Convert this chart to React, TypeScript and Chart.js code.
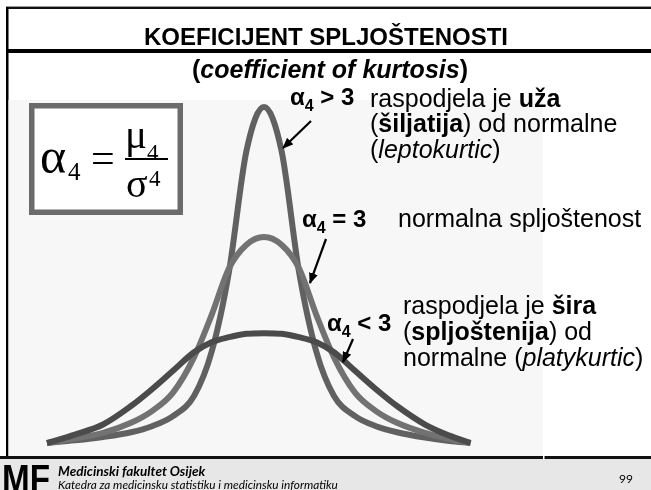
import React, { useEffect, useRef } from "react";
import { Chart, registerables } from "chart.js";

Chart.register(...registerables);

// Horizontal positions (in standard-deviation-like units) sampled along each curve
const xs = [-3.1, -2.7, -2.3, -1.9, -1.6, -1.3, -1.0, -0.75, -0.5, -0.25, 0, 0.25, 0.5, 0.75, 1.0, 1.3, 1.6, 1.9, 2.3, 2.65, 2.95];

// Relative heights of the three curves at those positions
const leptokurticY = [0, 0.008, 0.018, 0.032, 0.05, 0.08, 0.14, 0.27, 0.51, 0.87, 1.0, 0.87, 0.51, 0.27, 0.14, 0.08, 0.05, 0.032, 0.016, 0.006, 0];
const mesokurticY = [0, 0.014, 0.03, 0.06, 0.095, 0.15, 0.255, 0.38, 0.52, 0.59, 0.613, 0.59, 0.52, 0.38, 0.255, 0.15, 0.095, 0.06, 0.03, 0.012, 0];
const platykurticY = [0, 0.025, 0.055, 0.11, 0.16, 0.215, 0.27, 0.3, 0.315, 0.325, 0.327, 0.325, 0.315, 0.3, 0.27, 0.215, 0.16, 0.11, 0.055, 0.022, 0];

const seriesLabels = ["α4 < 3", "α4 = 3", "α4 > 3"];
const seriesColors = ["#4b4b4b", "#727272", "#616161"];

const toPoints = (ys: number[]) => xs.map((x, i) => ({ x, y: ys[i] }));

const sans = "'Liberation Sans', Arial, sans-serif";
const serif = "'Liberation Serif', 'Times New Roman', serif";
const footerFont = "Lato, 'Open Sans', sans-serif";

export default function App() {
  const canvasRef = useRef<HTMLCanvasElement | null>(null);

  useEffect(() => {
    const canvas = canvasRef.current;
    if (!canvas) return;
    const seriesData = [platykurticY, mesokurticY, leptokurticY];
    const chart = new Chart(canvas, {
      type: "line",
      data: {
        datasets: seriesData.map((ys, i) => ({
          label: seriesLabels[i],
          data: toPoints(ys),
          borderColor: seriesColors[i],
          borderWidth: 6,
          pointRadius: 0,
          fill: false,
          cubicInterpolationMode: "monotone" as const,
          borderCapStyle: "butt" as const,
          clip: false as any,
        })),
      },
      options: {
        animation: false,
        responsive: false,
        maintainAspectRatio: false,
        layout: { padding: { left: 6, right: 6, top: 7, bottom: 7 } },
        scales: {
          x: { type: "linear", min: -3.2, max: 3.2, display: false },
          y: { type: "linear", min: 0, max: 1, display: false },
        },
        plugins: { legend: { display: false }, tooltip: { enabled: false } },
      },
    });
    return () => chart.destroy();
  }, []);

  return (
    <div style={{ position: "fixed", left: 0, top: 0, width: 651, height: 490, overflow: "hidden", background: "#fff" }}>
      {/* slide frame, panel and footer band */}
      <svg width={651} height={490} style={{ position: "absolute", left: 0, top: 0 }}>
        <rect x={0} y={0} width={651} height={490} fill="#ffffff" />
        <rect x={6} y={6} width={645} height={1} fill="#9a9a9a" />
        <rect x={6} y={7} width={645} height={2} fill="#111" />
        <rect x={6} y={7} width={2.5} height={452} fill="#000" />
        <rect x={6} y={49} width={645} height={4} fill="#000" />
        <rect x={8.5} y={100} width={534.5} height={356} fill="#f7f7f7" />
        <rect x={0} y={456} width={651} height={3} fill="#111" />
        <rect x={543} y={456} width={1.5} height={3} fill="#fff" />
        <rect x={0} y={459} width={651} height={31} fill="#e7e7e7" />
        <rect x={31.75} y={105.75} width={148.5} height={106.5} fill="#ffffff" stroke="#6b6b6b" strokeWidth={5.5} />
      </svg>

      <canvas ref={canvasRef} width={460} height={350} style={{ position: "absolute", left: 34, top: 100, width: 460, height: 350 }} />

      {/* titles, formula, annotations and footer */}
      <svg width={651} height={490} style={{ position: "absolute", left: 0, top: 0 }}>
        <defs>
          <marker id="head" markerUnits="userSpaceOnUse" markerWidth={11} markerHeight={9} refX={10} refY={4.5} orient="auto">
            <path d="M0,0 L11,4.5 L0,9 Z" fill="#000" />
          </marker>
        </defs>

        <text x={326} y={45} textAnchor="middle" fontFamily={sans} fontWeight="bold" fontSize={24} fill="#000">
          KOEFICIJENT SPLJOŠTENOSTI
        </text>
        <text x={330} y={78} textAnchor="middle" fontFamily={sans} fontWeight="bold" fontSize={25} fill="#000">
          (<tspan fontStyle="italic">coefficient of kurtosis</tspan>)
        </text>

        {/* kurtosis formula */}
        <text x={40} y={173} fontFamily={serif} fontSize={50} fill="#000">α</text>
        <text x={68} y={180} fontFamily={serif} fontSize={25} fill="#000">4</text>
        <text x={91} y={172} fontFamily={serif} fontSize={42} fill="#000">=</text>
        <text x={125} y={148} fontFamily={serif} fontSize={41} fill="#000">μ</text>
        <text x={147} y={160} fontFamily={serif} fontSize={23} fill="#000">4</text>
        <line x1={125} y1={159} x2={168} y2={159} stroke="#000" strokeWidth={2} />
        <text x={126} y={197} fontFamily={serif} fontSize={40} fill="#000">σ</text>
        <text x={149} y={186} fontFamily={serif} fontSize={23} fill="#000">4</text>

        {/* leptokurtic */}
        <text x={290} y={105} fontFamily={sans} fontWeight="bold" fontSize={24} fill="#000">
          α<tspan fontSize={16} dy={6}>4</tspan><tspan dy={-6}> &gt; 3</tspan>
        </text>
        <text x={370} y={107} fontFamily={sans} fontSize={25} fill="#000">
          raspodjela je <tspan fontWeight="bold">uža</tspan>
        </text>
        <text x={370} y={132} fontFamily={sans} fontSize={25} fill="#000">
          (<tspan fontWeight="bold">šiljatija</tspan>) od normalne
        </text>
        <text x={370} y={158} fontFamily={sans} fontSize={25} fill="#000">
          (<tspan fontStyle="italic">leptokurtic</tspan>)
        </text>
        <line x1={311} y1={121} x2={283} y2={148} stroke="#000" strokeWidth={2.2} markerEnd="url(#head)" />

        {/* mesokurtic */}
        <text x={302} y={227} fontFamily={sans} fontWeight="bold" fontSize={24} fill="#000">
          α<tspan fontSize={16} dy={6}>4</tspan><tspan dy={-6}> = 3</tspan>
        </text>
        <text x={398} y={227} fontFamily={sans} fontSize={25} fill="#000">normalna spljoštenost</text>
        <line x1={326} y1={239} x2={310} y2={283} stroke="#000" strokeWidth={2.2} markerEnd="url(#head)" />

        {/* platykurtic */}
        <text x={327} y={331} fontFamily={sans} fontWeight="bold" fontSize={24} fill="#000">
          α<tspan fontSize={16} dy={6}>4</tspan><tspan dy={-6}> &lt; 3</tspan>
        </text>
        <text x={403} y={314} fontFamily={sans} fontSize={25} fill="#000">
          raspodjela je <tspan fontWeight="bold">šira</tspan>
        </text>
        <text x={403} y={340} fontFamily={sans} fontSize={25} fill="#000">
          (<tspan fontWeight="bold">spljoštenija</tspan>) od
        </text>
        <text x={403} y={366} fontFamily={sans} fontSize={25} fill="#000">
          normalne (<tspan fontStyle="italic">platykurtic</tspan>)
        </text>
        <line x1={353} y1={339} x2={343} y2={362} stroke="#000" strokeWidth={2.2} markerEnd="url(#head)" />

        {/* footer */}
        <text x={2} y={492} fontFamily={sans} fontWeight="bold" fontSize={39} textLength={48} lengthAdjust="spacingAndGlyphs" fill="#000">
          MF
        </text>
        <text x={58} y={476} fontFamily={footerFont} fontWeight="bold" fontStyle="italic" fontSize={13.5} fill="#000">
          Medicinski fakultet Osijek
        </text>
        <text x={58} y={489} fontFamily={footerFont} fontStyle="italic" fontSize={11.8} fill="#000">
          Katedra za medicinsku statistiku i medicinsku informatiku
        </text>
        <text x={619} y={483} fontFamily={footerFont} fontSize={12} fill="#000">99</text>
      </svg>
    </div>
  );
}
